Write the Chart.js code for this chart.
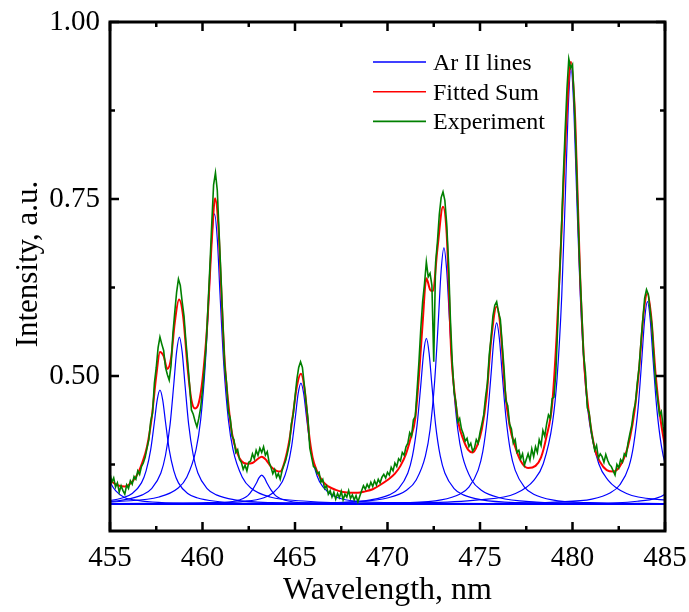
<!DOCTYPE html>
<html>
<head>
<meta charset="utf-8">
<script src="https://cdn.jsdelivr.net/npm/chart.js@4.4.1/dist/chart.umd.min.js"></script>
<style>
  html, body { margin: 0; padding: 0; background: #fff; }
  canvas { display: block; }
</style>
</head>
<body>
<canvas id="myChart" width="689" height="612"></canvas>
<script>
// values: wavelength in nm, intensity in a.u.
const xTicks = [455, 460, 465, 470, 475, 480, 485];
const xMinorTicks = [457.5, 462.5, 467.5, 472.5, 477.5, 482.5];
const yTicks = [0.50, 0.75, 1.00];
const yMinorTicks = [0.375, 0.625, 0.875];

// Fitted Sum (red)
const fitWavelength = [455.0, 455.25, 455.5, 455.8, 456.0, 456.25, 456.5, 456.75, 457.0, 457.25,
  457.5, 457.7, 457.9, 458.1, 458.3, 458.5, 458.73, 458.95, 459.2, 459.4,
  459.6, 459.8, 460.0, 460.25, 460.5, 460.68, 460.85, 461.0, 461.2, 461.4,
  461.6, 461.85, 462.1, 462.4, 462.7, 463.0, 463.2, 463.45, 463.7, 464.0,
  464.2, 464.45, 464.7, 464.9, 465.1, 465.32, 465.55, 465.75, 465.95, 466.2,
  466.5, 466.8, 467.2, 467.6, 468.0, 468.4, 468.8, 469.2, 469.6, 470.0,
  470.4, 470.7, 471.0, 471.25, 471.5, 471.7, 471.9, 472.1, 472.3, 472.45,
  472.7, 473.0, 473.2, 473.45, 473.65, 473.85, 474.1, 474.35, 474.6, 474.85,
  475.1, 475.35, 475.6, 475.9, 476.1, 476.35, 476.6, 476.9, 477.2, 477.6,
  478.0, 478.3, 478.6, 478.9, 479.15, 479.4, 479.65, 479.92, 480.15, 480.4,
  480.65, 480.9, 481.2, 481.5, 481.85, 482.2, 482.55, 482.85, 483.1, 483.35,
  483.6, 483.85, 484.05, 484.25, 484.5, 484.75, 485.0];
const fitIntensity = [0.353, 0.348, 0.345, 0.344, 0.346, 0.352, 0.362, 0.378, 0.400, 0.440,
  0.500, 0.534, 0.528, 0.510, 0.525, 0.575, 0.608, 0.585, 0.510, 0.466,
  0.454, 0.462, 0.495, 0.570, 0.690, 0.751, 0.715, 0.630, 0.520, 0.460,
  0.418, 0.393, 0.380, 0.376, 0.377, 0.383, 0.386, 0.381, 0.372, 0.366,
  0.365, 0.380, 0.410, 0.447, 0.485, 0.503, 0.475, 0.420, 0.385, 0.365,
  0.351, 0.344, 0.339, 0.336, 0.335, 0.335, 0.337, 0.340, 0.346, 0.353,
  0.362, 0.373, 0.390, 0.412, 0.440, 0.500, 0.575, 0.638, 0.622, 0.620,
  0.680, 0.739, 0.700, 0.530, 0.470, 0.432, 0.410, 0.396, 0.392, 0.402,
  0.425, 0.470, 0.550, 0.598, 0.570, 0.480, 0.430, 0.400, 0.380, 0.370,
  0.373, 0.385, 0.415, 0.460, 0.560, 0.700, 0.850, 0.944, 0.860, 0.650,
  0.510, 0.445, 0.398, 0.378, 0.367, 0.365, 0.372, 0.388, 0.412, 0.450,
  0.510, 0.590, 0.617, 0.585, 0.500, 0.440, 0.400];

// Experiment (green), sampled every 0.1 nm from 455 nm
const expStart = 455;
const expStep = 0.1;
const expIntensity = [
  0.362, 0.350, 0.356, 0.343, 0.349, 0.336, 0.345, 0.338, 0.333, 0.346, 0.341,
  0.352, 0.347, 0.358, 0.354, 0.366, 0.361, 0.372, 0.377, 0.385, 0.398,
  0.410, 0.436, 0.448, 0.490, 0.512, 0.540, 0.555, 0.545, 0.536, 0.512,
  0.502, 0.494, 0.515, 0.560, 0.590, 0.618, 0.637, 0.628, 0.605, 0.585,
  0.550, 0.520, 0.488, 0.452, 0.446, 0.436, 0.428, 0.440, 0.455, 0.480,
  0.510, 0.545, 0.600, 0.655, 0.715, 0.770, 0.787, 0.762, 0.700, 0.640,
  0.575, 0.515, 0.490, 0.450, 0.440, 0.415, 0.410, 0.392, 0.396, 0.382,
  0.378, 0.368, 0.374, 0.366, 0.378, 0.380, 0.390, 0.383, 0.395, 0.388,
  0.398, 0.392, 0.400, 0.388, 0.393, 0.378, 0.371, 0.362, 0.368, 0.357,
  0.362, 0.354, 0.366, 0.374, 0.381, 0.392, 0.405, 0.432, 0.445, 0.470,
  0.495, 0.512, 0.520, 0.512, 0.488, 0.462, 0.440, 0.398, 0.385, 0.372,
  0.370, 0.362, 0.364, 0.350, 0.354, 0.341, 0.345, 0.333, 0.338, 0.329,
  0.336, 0.326, 0.334, 0.328, 0.337, 0.325, 0.333, 0.329, 0.338, 0.327,
  0.332, 0.325, 0.331, 0.322, 0.330, 0.338, 0.345, 0.340, 0.347, 0.342,
  0.350, 0.344, 0.352, 0.346, 0.354, 0.349, 0.357, 0.361, 0.356, 0.364,
  0.360, 0.371, 0.366, 0.377, 0.372, 0.383, 0.380, 0.392, 0.388, 0.400,
  0.405, 0.420, 0.415, 0.438, 0.443, 0.480, 0.520, 0.567, 0.605, 0.630,
  0.661, 0.640, 0.645, 0.628, 0.520, 0.660, 0.690, 0.728, 0.752, 0.760,
  0.748, 0.715, 0.660, 0.580, 0.520, 0.478, 0.462, 0.435, 0.440, 0.425,
  0.418, 0.408, 0.412, 0.400, 0.405, 0.394, 0.398, 0.410, 0.405, 0.420,
  0.432, 0.445, 0.470, 0.490, 0.530, 0.555, 0.585, 0.600, 0.605, 0.590,
  0.580, 0.545, 0.510, 0.465, 0.458, 0.432, 0.425, 0.405, 0.410, 0.392,
  0.395, 0.383, 0.390, 0.374, 0.382, 0.390, 0.381, 0.397, 0.386, 0.400,
  0.392, 0.410, 0.402, 0.423, 0.415, 0.432, 0.445, 0.440, 0.468, 0.470,
  0.505, 0.570, 0.640, 0.705, 0.780, 0.845, 0.905, 0.948, 0.935, 0.940,
  0.885, 0.810, 0.725, 0.648, 0.590, 0.530, 0.505, 0.455, 0.448, 0.425,
  0.410, 0.395, 0.402, 0.384, 0.390, 0.386, 0.378, 0.389, 0.381, 0.375,
  0.372, 0.366, 0.360, 0.375, 0.370, 0.382, 0.378, 0.390, 0.387, 0.405,
  0.418, 0.430, 0.450, 0.462, 0.490, 0.512, 0.548, 0.580, 0.610, 0.622,
  0.615, 0.592, 0.570, 0.525, 0.490, 0.468, 0.445, 0.450, 0.428, 0.412];

// Ar II lines (blue): line centres, and each profile read at centre + offset
const lineCenters = [454.3, 457.7, 458.75, 460.65, 463.2, 465.32, 472.1, 473.05, 475.9, 479.92, 484.05, 486.5];
const lineOffsets = [-30, -15, -8, -5, -3, -2, -1.5, -1, -0.75, -0.5, -0.3, -0.15, 0,
  0.15, 0.3, 0.5, 0.75, 1, 1.5, 2, 3, 5, 8, 15, 30];
const line4543 = [0.319, 0.319, 0.319, 0.320, 0.322, 0.325, 0.328, 0.338, 0.348, 0.367, 0.391, 0.410, 0.419, 0.410, 0.391, 0.367, 0.348, 0.338, 0.328, 0.325, 0.322, 0.320, 0.319, 0.319, 0.319];
const line4577 = [0.319, 0.319, 0.320, 0.320, 0.323, 0.328, 0.334, 0.349, 0.366, 0.396, 0.435, 0.466, 0.480, 0.466, 0.435, 0.396, 0.366, 0.349, 0.334, 0.328, 0.323, 0.320, 0.320, 0.319, 0.319];
const line4588 = [0.319, 0.319, 0.320, 0.321, 0.325, 0.332, 0.341, 0.363, 0.388, 0.432, 0.489, 0.534, 0.555, 0.534, 0.489, 0.432, 0.388, 0.363, 0.341, 0.332, 0.325, 0.321, 0.320, 0.319, 0.319];
const line4607 = [0.319, 0.319, 0.320, 0.323, 0.329, 0.341, 0.357, 0.396, 0.438, 0.516, 0.614, 0.693, 0.729, 0.693, 0.614, 0.516, 0.438, 0.396, 0.357, 0.341, 0.329, 0.323, 0.320, 0.319, 0.319];
const line4632 = [0.319, 0.319, 0.319, 0.319, 0.320, 0.321, 0.323, 0.327, 0.331, 0.339, 0.348, 0.356, 0.360, 0.356, 0.348, 0.339, 0.331, 0.327, 0.323, 0.321, 0.320, 0.319, 0.319, 0.319, 0.319];
const line4653 = [0.319, 0.319, 0.320, 0.321, 0.323, 0.328, 0.335, 0.351, 0.369, 0.401, 0.442, 0.475, 0.490, 0.475, 0.442, 0.401, 0.369, 0.351, 0.335, 0.328, 0.323, 0.321, 0.320, 0.319, 0.319];
const line4721 = [0.319, 0.319, 0.320, 0.321, 0.325, 0.332, 0.341, 0.363, 0.387, 0.431, 0.487, 0.532, 0.553, 0.532, 0.487, 0.431, 0.387, 0.363, 0.341, 0.332, 0.325, 0.321, 0.320, 0.319, 0.319];
const line4731 = [0.319, 0.319, 0.320, 0.322, 0.328, 0.339, 0.353, 0.387, 0.424, 0.493, 0.579, 0.649, 0.681, 0.649, 0.579, 0.493, 0.424, 0.387, 0.353, 0.339, 0.328, 0.322, 0.320, 0.319, 0.319];
const line4759 = [0.319, 0.319, 0.320, 0.321, 0.325, 0.333, 0.343, 0.367, 0.393, 0.442, 0.503, 0.552, 0.575, 0.552, 0.503, 0.442, 0.393, 0.367, 0.343, 0.333, 0.325, 0.321, 0.320, 0.319, 0.319];
const line4799 = [0.319, 0.320, 0.321, 0.325, 0.334, 0.353, 0.376, 0.434, 0.498, 0.614, 0.761, 0.879, 0.934, 0.879, 0.761, 0.614, 0.498, 0.434, 0.376, 0.353, 0.334, 0.325, 0.321, 0.320, 0.319];
const line4841 = [0.319, 0.319, 0.320, 0.322, 0.326, 0.335, 0.346, 0.372, 0.402, 0.456, 0.525, 0.580, 0.605, 0.580, 0.525, 0.456, 0.402, 0.372, 0.346, 0.335, 0.326, 0.322, 0.320, 0.319, 0.319];
const line4865 = [0.319, 0.319, 0.320, 0.320, 0.323, 0.327, 0.333, 0.347, 0.363, 0.391, 0.427, 0.456, 0.469, 0.456, 0.427, 0.391, 0.363, 0.347, 0.333, 0.327, 0.323, 0.320, 0.320, 0.319, 0.319];
const arLines = [line4543, line4577, line4588, line4607, line4632, line4653,
  line4721, line4731, line4759, line4799, line4841, line4865];

const FONT = "'Liberation Serif', 'Times New Roman', serif";
const BLUE = '#0000ff';
const RED = '#ff0000';
const GREEN = '#008000';

const expPoints = expIntensity.map((v, i) => ({ x: expStart + i * expStep, y: v }));
const fitPoints = fitWavelength.map((w, i) => ({ x: w, y: fitIntensity[i] }));

const blueSets = arLines.map((vals, k) => ({
  label: 'Ar II lines',
  data: vals.map((v, i) => ({ x: lineCenters[k] + lineOffsets[i], y: v })),
  borderColor: BLUE,
  borderWidth: 1.2,
  pointRadius: 0,
  cubicInterpolationMode: 'monotone',
  order: 2
}));

// inward ticks on all four sides plus the black frame
const frameTicks = {
  id: 'frameTicks',
  afterDatasetsDraw(chart) {
    const { ctx, chartArea: a, scales: { x, y } } = chart;
    ctx.save();
    ctx.strokeStyle = '#000';
    ctx.lineWidth = 2.5;
    ctx.beginPath();
    const xt = (v, len) => {
      const px = x.getPixelForValue(v);
      ctx.moveTo(px, a.bottom); ctx.lineTo(px, a.bottom - len);
      ctx.moveTo(px, a.top); ctx.lineTo(px, a.top + len);
    };
    const yt = (v, len) => {
      const py = y.getPixelForValue(v);
      ctx.moveTo(a.left, py); ctx.lineTo(a.left + len, py);
      ctx.moveTo(a.right, py); ctx.lineTo(a.right - len, py);
    };
    xTicks.forEach(v => xt(v, 9));
    xMinorTicks.forEach(v => xt(v, 5));
    yTicks.forEach(v => yt(v, 9));
    yMinorTicks.forEach(v => yt(v, 5));
    ctx.stroke();
    ctx.lineWidth = 3;
    ctx.strokeRect(a.left, a.top, a.right - a.left, a.bottom - a.top);
    ctx.restore();
  }
};

// legend and y-axis title
const lineLegend = {
  id: 'lineLegend',
  afterDraw(chart) {
    const ctx = chart.ctx;
    const items = [['Ar II lines', BLUE], ['Fitted Sum', RED], ['Experiment', GREEN]];
    ctx.save();
    ctx.font = '24px ' + FONT;
    ctx.fillStyle = '#000';
    ctx.textBaseline = 'alphabetic';
    items.forEach(([text, color], i) => {
      const yy = 62 + i * 29.7;
      ctx.strokeStyle = color;
      ctx.lineWidth = 1.6;
      ctx.beginPath();
      ctx.moveTo(373, yy);
      ctx.lineTo(426, yy);
      ctx.stroke();
      ctx.fillText(text, 433, yy + 8);
    });
    ctx.translate(29, 264);
    ctx.rotate(-Math.PI / 2);
    ctx.font = '31px ' + FONT;
    ctx.textAlign = 'center';
    ctx.textBaseline = 'middle';
    ctx.fillText('Intensity, a.u.', 0, 0);
    ctx.restore();
  }
};

const ctx = document.getElementById('myChart').getContext('2d');
const chart = new Chart(ctx, {
  type: 'line',
  data: {
    datasets: [
      { label: 'Experiment', data: expPoints, borderColor: GREEN, borderWidth: 1.6, pointRadius: 0, tension: 0, order: 0 },
      { label: 'Fitted Sum', data: fitPoints, borderColor: RED, borderWidth: 2, pointRadius: 0, cubicInterpolationMode: 'monotone', order: 1 },
      ...blueSets
    ]
  },
  options: {
    responsive: false,
    animation: false,
    events: [],
    layout: { padding: { left: 0, right: 24, top: 22, bottom: 0 } },
    plugins: { legend: { display: false }, tooltip: { enabled: false } },
    scales: {
      x: {
        type: 'linear',
        min: 455,
        max: 485,
        afterBuildTicks: s => { s.ticks = xTicks.map(v => ({ value: v })); },
        afterFit: s => { s.height = 81; s.paddingLeft = 0; s.paddingRight = 0; },
        grid: { display: false, drawTicks: false },
        border: { display: false },
        ticks: { color: '#000', font: { family: FONT, size: 29 }, padding: 10, maxRotation: 0 },
        title: { display: true, text: 'Wavelength, nm', color: '#000', font: { family: FONT, size: 32 }, padding: { top: 0, bottom: 2 } }
      },
      y: {
        type: 'linear',
        min: 0.281,
        max: 1.0,
        afterBuildTicks: s => { s.ticks = yTicks.map(v => ({ value: v })); },
        afterFit: s => { s.width = 110; s.paddingTop = 0; s.paddingBottom = 0; },
        grid: { display: false, drawTicks: false },
        border: { display: false },
        ticks: { color: '#000', font: { family: FONT, size: 29 }, padding: 10, callback: v => v.toFixed(2) },
        title: { display: false }
      }
    }
  },
  plugins: [frameTicks, lineLegend]
});
</script>
</body>
</html>
